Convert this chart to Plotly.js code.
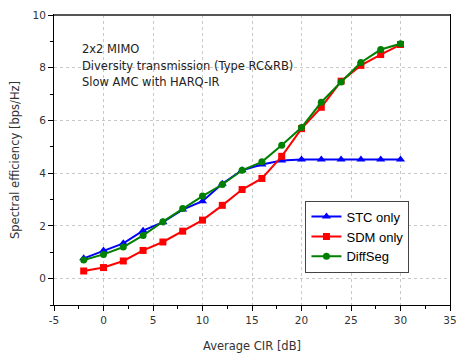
<!DOCTYPE html>
<html><head><meta charset="utf-8">
<script src="https://cdn.plot.ly/plotly-3.0.1.min.js"></script>
<style>body{margin:0;padding:0;background:#fff}#c{width:456px;height:356px}</style>
</head><body><div id="c"></div>
<script>
var cir = [-2,0,2,4,6,8,10,12,14,16,18,20,22,24,26,28,30];
var stcOnly = [0.77,1.07,1.34,1.82,2.14,2.62,2.94,3.6,4.11,4.33,4.48,4.52,4.52,4.52,4.52,4.52,4.52];
var sdmOnly = [0.29,0.42,0.67,1.07,1.39,1.8,2.22,2.78,3.38,3.8,4.64,5.69,6.5,7.49,8.09,8.5,8.88];
var diffSeg = [0.71,0.92,1.2,1.64,2.16,2.66,3.13,3.57,4.11,4.43,5.06,5.73,6.69,7.46,8.2,8.69,8.91];
var xTickVals = [-5,0,5,10,15,20,25,30,35];
var xTickText = ["-5","0","5","10","15","20","25","30","35"];
var yTickVals = [0,2,4,6,8,10];
var yTickText = ["0","2","4","6","8","10"];
var notes = ["2x2 MIMO","Diversity transmission (Type RC&amp;RB)","Slow AMC with HARQ-IR"];

var traces = [
 {x:cir,y:stcOnly,name:"STC only",mode:"lines+markers",line:{color:"#0000ff",width:2},marker:{symbol:"triangle-up",size:8,color:"#0000ff"}},
 {x:cir,y:sdmOnly,name:"SDM only",mode:"lines+markers",line:{color:"#ff0000",width:2},marker:{symbol:"square",size:7,color:"#ff0000"}},
 {x:cir,y:diffSeg,name:"DiffSeg",mode:"lines+markers",line:{color:"#008000",width:2},marker:{symbol:"circle",size:7,color:"#008000"}}
];
var tickFont = {family:"DejaVu Sans",size:10.5,color:"#333"};
var noteAnn = notes.map(function(t,i){
  return {xref:"paper",yref:"paper",x:0.065,y:0.882-i*0.057,xanchor:"left",yanchor:"middle",align:"left",showarrow:false,
    text:t,font:{family:"DejaVu Sans",size:11.5,color:"#222"}};
});
var layout = {
 width:456,height:356,
 margin:{l:54,r:6,t:15,b:51},
 paper_bgcolor:"#fff",plot_bgcolor:"#fff",
 showlegend:true,
 legend:{x:0.635,y:0.36,xanchor:"left",yanchor:"top",bordercolor:"#444",borderwidth:1,bgcolor:"#fff",
   font:{family:"Liberation Sans",size:13,color:"#000"},tracegroupgap:0,itemwidth:30},
 xaxis:{range:[-5,35],tickmode:"array",tickvals:xTickVals,ticktext:xTickText,ticks:"outside",ticklen:5,tickcolor:"#000",
   ticklabeloverflow:"allow",
   showline:true,linecolor:"#000",linewidth:1,mirror:true,zeroline:false,
   showgrid:true,gridcolor:"#c8c8c8",griddash:"dot",gridwidth:1,
   minor:{dtick:2.5,tick0:-5,ticks:"outside",ticklen:3,tickcolor:"#000",showgrid:false},
   tickfont:tickFont,
   title:{text:"Average CIR [dB]",font:{family:"DejaVu Sans",size:11.5,color:"#333"},standoff:17}},
 yaxis:{range:[-1,10],tickmode:"array",tickvals:yTickVals,ticktext:yTickText,ticks:"outside",ticklen:5,tickcolor:"#000",
   showline:true,linecolor:"#000",linewidth:1,mirror:true,zeroline:false,
   showgrid:true,gridcolor:"#c8c8c8",griddash:"dot",gridwidth:1,
   minor:{dtick:1,tick0:0,ticks:"outside",ticklen:3,tickcolor:"#000",showgrid:false},
   tickfont:tickFont,
   title:{text:"Spectral efficiency [bps/Hz]",font:{family:"DejaVu Sans",size:11.5,color:"#333"},standoff:10}},
 annotations:noteAnn,
 shapes:[{type:"line",xref:"paper",yref:"paper",x0:0,x1:1,y0:1,y1:1,line:{color:"#555",width:2}}]
};
Plotly.newPlot("c",traces,layout,{displayModeBar:false});
</script></body></html>
